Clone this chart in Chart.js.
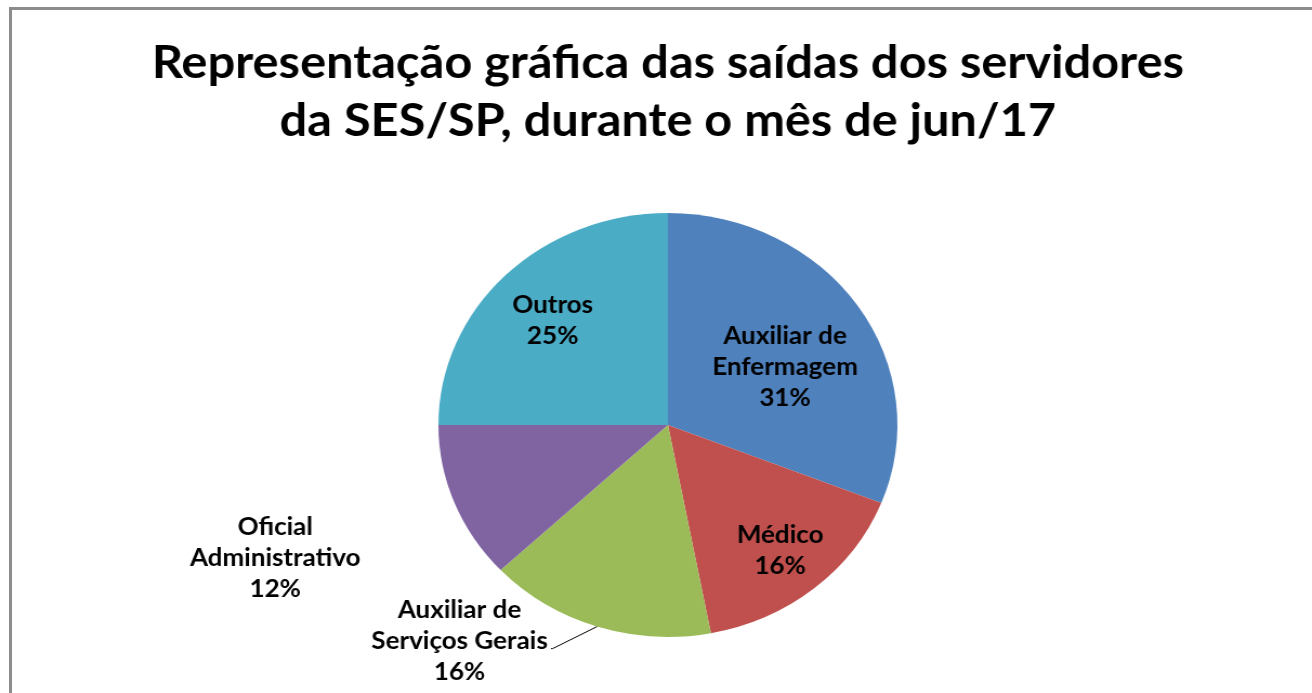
<!DOCTYPE html>
<html>
<head>
<meta charset="utf-8">
<script src="https://cdn.jsdelivr.net/npm/chart.js@4.4.1/dist/chart.umd.min.js"></script>
<style>
  html, body { margin: 0; padding: 0; background: #fff; overflow: hidden; }
  #stretch {
    position: absolute; left: 0; top: 0;
    width: 1212px; height: 693px;
    transform: scaleX(1.0825); transform-origin: 0 0;
  }
  #frame {
    position: absolute; left: 9px; top: 7px; width: 1400px; height: 800px;
    border-left: 3px solid #8c8c8c; border-top: 3px solid #8c8c8c;
  }
</style>
</head>
<body>
<div id="frame"></div>
<div id="stretch"><canvas id="chart"></canvas></div>
<script>
const titleLines = ['Representação gráfica das saídas dos servidores', 'da SES/SP, durante o mês de jun/17'];
const categories = [
  ['Auxiliar de', 'Enfermagem'],
  ['Médico'],
  ['Auxiliar de', 'Serviços Gerais'],
  ['Oficial', 'Administrativo'],
  ['Outros']
];
const shares = [31, 16, 16, 12, 25];
const colors = ['#4f81bd', '#c0504d', '#9bbb59', '#8064a2', '#4bacc6'];

// where each label sits: radial factor along slice middle, plus nudge in px
const labelPlace = [
  { r: 0.6, dx: 3, dy: 14 },
  { r: 0.76, dx: 1, dy: 2 },
  { r: 1.0, dx: 0, dy: 0, leader: true },
  { r: 1.82, dx: -4, dy: -9 },
  { r: 0.73, dx: 3, dy: 5 }
];

const labelFont = 'bold 24px Lato';
const lineGap = 31;

const pieLabels = {
  id: 'pieLabels',
  afterDraw(chart) {
    const ctx = chart.ctx;
    const meta = chart.getDatasetMeta(0);
    ctx.save();
    // title
    ctx.fillStyle = '#000';
    ctx.font = 'bold 45px Lato';
    ctx.textAlign = 'center';
    ctx.textBaseline = 'middle';
    const cx = chart.width / 2 + 11;
    ctx.fillText(titleLines[0], cx, 63);
    ctx.fillText(titleLines[1], cx, 121);

    ctx.font = labelFont;
    meta.data.forEach((arc, i) => {
      const p = arc.getProps(['x', 'y', 'startAngle', 'endAngle', 'outerRadius']);
      const mid = (p.startAngle + p.endAngle) / 2;
      const pl = labelPlace[i];
      const lines = categories[i].concat([shares[i] + '%']);
      let x = p.x + Math.cos(mid) * p.outerRadius * pl.r + pl.dx;
      let y = p.y + Math.sin(mid) * p.outerRadius * pl.r + pl.dy;
      if (pl.leader) {
        const ex = p.x + Math.cos(mid) * p.outerRadius;
        const ey = p.y + Math.sin(mid) * p.outerRadius;
        x = ex - 127;
        y = ey + 15;
        const w = ctx.measureText(lines[1]).width;
        ctx.strokeStyle = '#000';
        ctx.lineWidth = 1;
        ctx.beginPath();
        ctx.moveTo(ex, ey);
        ctx.lineTo(ex - 41, ey + 22);
        ctx.lineTo(x + w / 2 + 3, ey + 22);
        ctx.stroke();
      }
      ctx.fillStyle = '#000';
      const top = y - (lines.length - 1) * lineGap / 2;
      lines.forEach((t, k) => ctx.fillText(t, x, top + k * lineGap));
    });
    ctx.restore();
  }
};

new Chart(document.getElementById('chart'), {
  type: 'pie',
  data: {
    labels: categories.map(c => c.join(' ')),
    datasets: [{
      data: shares,
      backgroundColor: colors,
      borderWidth: 0
    }]
  },
  options: {
    responsive: true,
    maintainAspectRatio: false,
    animation: false,
    layout: { padding: { top: 213, bottom: 56, left: 100, right: 78 } },
    plugins: {
      legend: { display: false },
      title: { display: false },
      tooltip: { enabled: false }
    }
  },
  plugins: [pieLabels]
});
</script>
</body>
</html>
